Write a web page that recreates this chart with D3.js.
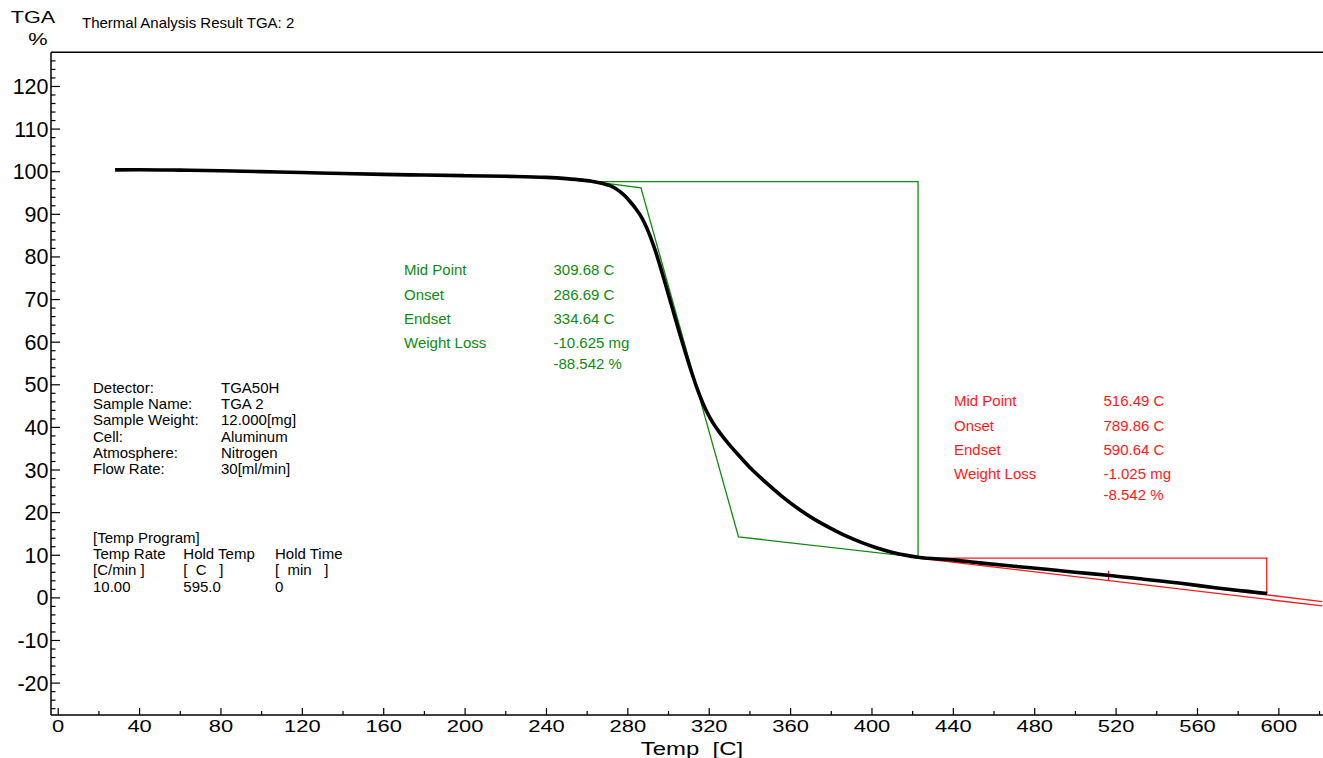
<!DOCTYPE html>
<html><head><meta charset="utf-8">
<script src="https://cdn.jsdelivr.net/npm/d3@7"></script>
<style>
html,body{margin:0;padding:0;background:#fff;}
svg{display:block;}
text{font-family:"Liberation Sans", Arial, Helvetica, sans-serif; white-space:pre;}
</style></head><body>
<svg id="chart" width="1323" height="758"></svg>
<script>
// ---------- data ----------
const tempC = [28.2, 40, 60, 80, 100, 120, 140, 160, 180, 200, 220, 240, 250, 258, 263, 268, 271.5, 274, 276.4, 279, 281.3, 284, 286.2, 288.5, 291.1, 294, 296, 298, 301.8, 305.9, 310, 314.1, 319, 322, 325.5, 330, 335.4, 341, 348.5, 356, 364.9, 372, 380, 388, 395, 402, 410, 418, 423, 440, 453, 470, 486, 500, 516, 535, 552, 570, 585, 594.5];
const tgaPct = [100.3, 100.35, 100.25, 100.1, 99.9, 99.7, 99.45, 99.25, 99.1, 98.95, 98.8, 98.55, 98.25, 97.9, 97.6, 97.1, 96.6, 96.0, 95.2, 94.1, 92.9, 91.3, 89.8, 87.8, 84.9, 81.0, 77.9, 74.7, 68.4, 61.6, 55.2, 49.3, 43.6, 41.0, 38.6, 35.9, 33.0, 30.1, 26.8, 23.7, 20.5, 18.3, 16.2, 14.3, 12.9, 11.7, 10.6, 9.8, 9.4, 8.8, 8.1, 7.3, 6.6, 5.9, 5.2, 4.2, 3.3, 2.2, 1.4, 0.9];

const xMajorTicks = [0, 40, 80, 120, 160, 200, 240, 280, 320, 360, 400, 440, 480, 520, 560, 600];
const xMinorTicks = [20, 60, 100, 140, 180, 220, 260, 300, 340, 380, 420, 460, 500, 540, 580, 620];
const yMajorTicks = [-20, -10, 0, 10, 20, 30, 40, 50, 60, 70, 80, 90, 100, 110, 120];
const yMinorTicks = d3.range(-26, 127, 2).filter(v => v % 10 !== 0);

// green step analysis (temperature, %)
const greenT   = [263.3, 286.69, 334.64, 422.9, 422.9, 263.3];
const greenPct = [97.55, 96.1, 14.2, 9.4, 97.55, 97.55];
// red step analysis
const redBoxT   = [423.0, 594.3, 594.3];
const redBoxPct = [9.2, 9.2, 0.9];
const redBaseT   = [423.0, 621.6];
const redBasePct = [9.2, -2.0];
const redTanT   = [557.4, 621.6];
const redTanPct = [2.75, -1.0];
const redMidT   = [516.49, 516.49];
const redMidPct = [3.83, 6.24];

const greenLabels = ["Mid Point", "Onset", "Endset", "Weight Loss", ""];
const greenValues = ["309.68 C", "286.69 C", "334.64 C", "-10.625 mg", "-88.542 %"];
const redLabels = ["Mid Point", "Onset", "Endset", "Weight Loss", ""];
const redValues = ["516.49 C", "789.86 C", "590.64 C", "-1.025 mg", "-8.542 %"];

const infoLabels = ["Detector:", "Sample Name:", "Sample Weight:", "Cell:", "Atmosphere:", "Flow Rate:"];
const infoValues = ["TGA50H", "TGA 2", "12.000[mg]", "Aluminum", "Nitrogen", "30[ml/min]"];
const progHeader = "[Temp Program]";
const progCols = [
  ["Temp Rate", "[C/min ]", "10.00"],
  ["Hold Temp", "[  C   ]", "595.0"],
  ["Hold Time", "[  min   ]", "0"]
];

// ---------- chart ----------
const svg = d3.select("#chart");
const pLeft = 51, pRight = 1323, pTop = 52.3, pBottom = 715;
const x = d3.scaleLinear().domain([-3.3, 621.6]).range([pLeft, 1322.3]);
const y = d3.scaleLinear().domain([-27.6, 127.9]).range([pBottom, pTop]);

// frame lines
svg.append("line").attr("x1", pLeft).attr("x2", pRight).attr("y1", pTop).attr("y2", pTop).attr("stroke", "#000").attr("stroke-width", 1.5);
svg.append("line").attr("x1", pLeft).attr("x2", pRight).attr("y1", pBottom).attr("y2", pBottom).attr("stroke", "#000").attr("stroke-width", 1.5);
svg.append("line").attr("x1", pLeft).attr("x2", pLeft).attr("y1", pTop).attr("y2", pBottom).attr("stroke", "#000").attr("stroke-width", 1.5);

// x axis
const gxMinor = svg.append("g").attr("transform", `translate(0,${pBottom})`)
  .call(d3.axisBottom(x).tickValues(xMinorTicks).tickSize(-4).tickSizeOuter(0).tickFormat(""));
const gx = svg.append("g").attr("transform", `translate(0,${pBottom})`)
  .call(d3.axisBottom(x).tickValues(xMajorTicks).tickSize(-7).tickSizeOuter(0).tickFormat(d => String(d)));
[gx, gxMinor].forEach(g => { g.select(".domain").remove(); g.selectAll("line").attr("stroke", "#000").attr("stroke-width", 1.2); });
gx.selectAll("text").attr("y", 16.7).attr("dy", 0).attr("fill", "#000")
  .style("font-size", "17px").attr("transform", "scale(1.29,1)");

// y axis
const gyMinor = svg.append("g").attr("transform", `translate(${pLeft},0)`)
  .call(d3.axisLeft(y).tickValues(yMinorTicks).tickSize(-4.5).tickSizeOuter(0).tickFormat(""));
const gy = svg.append("g").attr("transform", `translate(${pLeft},0)`)
  .call(d3.axisLeft(y).tickValues(yMajorTicks).tickSize(-9).tickSizeOuter(0).tickFormat(d => String(d)));
[gy, gyMinor].forEach(g => { g.select(".domain").remove(); g.selectAll("line").attr("stroke", "#000").attr("stroke-width", 1.2); });
gy.selectAll("text").attr("x", -2.5).attr("dy", 7.5).attr("fill", "#000").style("font-size", "21.5px");

// axis titles
svg.append("text").attr("transform", "translate(33,23.3) scale(1.35,1)").attr("text-anchor", "middle").style("font-size", "16px").text("TGA");
svg.append("text").attr("transform", "translate(38,45) scale(1.28,1)").attr("text-anchor", "middle").style("font-size", "17px").text("%");
svg.append("text").attr("x", 82).attr("y", 28).style("font-size", "15px").text("Thermal Analysis Result TGA: 2");
svg.append("text").attr("transform", "translate(692,755) scale(1.26,1)").attr("text-anchor", "middle").style("font-size", "19px").text("Temp  [C]");

// analysis lines
const seg = (ts, ps) => d3.line().x((d, i) => x(ts[i])).y((d, i) => y(ps[i]))(ts);
svg.append("path").attr("d", seg(greenT, greenPct)).attr("fill", "none").attr("stroke", "#108a10").attr("stroke-width", 1.3);
[[redBoxT, redBoxPct], [redBaseT, redBasePct], [redTanT, redTanPct], [redMidT, redMidPct]].forEach(([t, p]) => {
  svg.append("path").attr("d", seg(t, p)).attr("fill", "none").attr("stroke", "#ff1a1a").attr("stroke-width", 1.3);
});

// main curve
const curve = d3.line().x((d, i) => x(tempC[i])).y((d, i) => y(tgaPct[i])).curve(d3.curveMonotoneX);
svg.append("path").attr("d", curve(tempC)).attr("fill", "none").attr("stroke", "#000").attr("stroke-width", 3.6).attr("stroke-linejoin", "round");

// green annotation text
const gBase = [275, 299.5, 324, 348.3, 368.5];
greenLabels.forEach((t, i) => {
  svg.append("text").attr("x", 404).attr("y", gBase[i]).attr("fill", "#108a10").style("font-size", "15px").text(t);
  svg.append("text").attr("x", 553.5).attr("y", gBase[i]).attr("fill", "#108a10").style("font-size", "15px").text(greenValues[i]);
});
// red annotation text
const rBase = [405.7, 430.7, 455, 479.3, 500];
redLabels.forEach((t, i) => {
  svg.append("text").attr("x", 954).attr("y", rBase[i]).attr("fill", "#ff1a1a").style("font-size", "15px").text(t);
  svg.append("text").attr("x", 1103.5).attr("y", rBase[i]).attr("fill", "#ff1a1a").style("font-size", "15px").text(redValues[i]);
});

// info block
const iBase = [393, 409.2, 425.4, 441.6, 457.8, 474];
infoLabels.forEach((t, i) => {
  svg.append("text").attr("x", 93).attr("y", iBase[i]).style("font-size", "15px").text(t);
  svg.append("text").attr("x", 221).attr("y", iBase[i]).style("font-size", "15px").text(infoValues[i]);
});
svg.append("text").attr("x", 93).attr("y", 543).style("font-size", "15px").text(progHeader);
const pBase = [559, 575, 591.5];
const pX = [93, 183.3, 275];
progCols.forEach((col, c) => {
  col.forEach((t, r) => {
    svg.append("text").attr("x", pX[c]).attr("y", pBase[r]).style("font-size", "15px").text(t);
  });
});
</script>
</body></html>
